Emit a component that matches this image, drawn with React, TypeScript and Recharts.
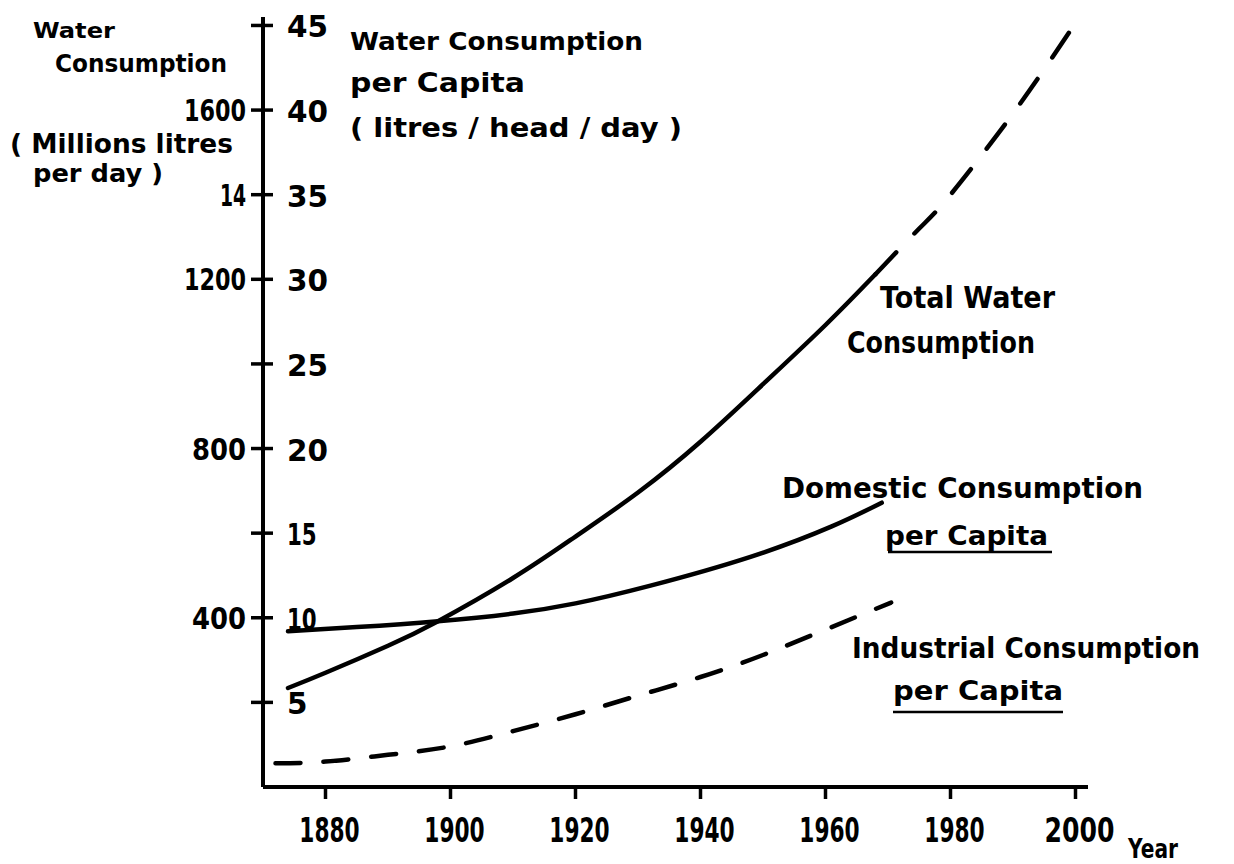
import { LineChart, Line, XAxis, YAxis, Customized } from 'recharts';

// values (litres/head/day)
const totalYears = [1874, 1880, 1890, 1898, 1910, 1920, 1930, 1940, 1950, 1960, 1968];
const totalValues = [5.85, 6.75, 8.35, 9.8, 12.35, 14.8, 17.4, 20.4, 23.8, 27.3, 30.3];

const projectedYears = [1968, 1975, 1980, 1990, 1999];
const projectedValues = [30.3, 33.0, 35.0, 39.8, 44.6];

const domesticYears = [1874, 1885, 1898, 1910, 1920, 1932, 1948, 1961, 1969];
const domesticValues = [9.2, 9.45, 9.8, 10.25, 10.85, 11.9, 13.6, 15.4, 16.8];

const industrialYears = [1872, 1880, 1890, 1900, 1910, 1920, 1930, 1940, 1950, 1960, 1970.5];
const industrialValues = [1.4, 1.5, 1.9, 2.4, 3.3, 4.3, 5.4, 6.5, 7.8, 9.3, 10.9];

const yearTicks = [1880, 1900, 1920, 1940, 1960, 1980, 2000];
const perCapitaTicks = [5, 10, 15, 20, 25, 30, 35, 40, 45];
const totalTickAt = [10, 20, 30, 35, 40];
const totalTickText = ['400', '800', '1200', '14', '1600'];

const toRows = (xs: number[], vs: number[]) => xs.map((year, i) => ({ year, v: vs[i] }));

const FONT = '"DejaVu Sans", Verdana, sans-serif';

// hand lettering has a narrow "1", so squeeze labels to the drawn width
const labelW = (s: string, unit: number) =>
  s.split('').reduce((w, c) => w + (c === '1' ? 0.45 : 1) * unit, 0);

const T = ({ x, y, w, fs, anchor = 'start', children }: {
  x: number; y: number; w: number; fs: number; anchor?: 'start' | 'middle' | 'end'; children: string;
}) => (
  <text x={x} y={y} fontSize={fs} fontWeight={700} fontFamily={FONT} fill="#000"
    textAnchor={anchor} textLength={w} lengthAdjust="spacingAndGlyphs">
    {children}
  </text>
);

const YearTick = (props: any) => {
  const { x, payload } = props;
  const s = String(payload.value);
  return <T x={x + 4} y={842} w={labelW(s, 17.5)} fs={33} anchor="middle">{s}</T>;
};

const ScaleTick = (props: any) => {
  const { x, y, payload } = props;
  const v = payload.value as number;
  const i = totalTickAt.indexOf(v);
  const s = String(v);
  return (
    <g>
      <line x1={x - 12} x2={x + 10} y1={y} y2={y} stroke="#000" strokeWidth={3.5} />
      <T x={x + 24} y={y + 12} w={labelW(s, 20.5)} fs={30}>{s}</T>
      {i >= 0 && (
        <T x={x - 17} y={y + 11} w={labelW(totalTickText[i], 18)} fs={30} anchor="end">
          {totalTickText[i]}
        </T>
      )}
    </g>
  );
};

const Annotations = () => (
  <g>
    {/* left axis title */}
    <T x={33} y={38} w={82} fs={21}>Water</T>
    <T x={55} y={72} w={172} fs={24}>Consumption</T>
    <T x={10} y={153} w={223} fs={27}>( Millions litres</T>
    <T x={33} y={182} w={130} fs={25}>per day )</T>

    {/* right axis title */}
    <T x={350} y={50} w={293} fs={25}>Water Consumption</T>
    <T x={350} y={92} w={175} fs={26}>per Capita</T>
    <T x={350} y={137} w={332} fs={26}>( litres / head / day )</T>

    {/* series labels */}
    <T x={880} y={308} w={175} fs={30}>Total Water</T>
    <T x={847} y={353} w={188} fs={30}>Consumption</T>

    <T x={782} y={498} w={361} fs={28}>Domestic Consumption</T>
    <T x={885} y={545} w={163} fs={27}>per Capita</T>
    <line x1={888} x2={1052} y1={552} y2={552} stroke="#000" strokeWidth={2.5} />

    <T x={852} y={658} w={348} fs={29}>Industrial Consumption</T>
    <T x={893} y={700} w={170} fs={27}>per Capita</T>
    <line x1={893} x2={1063} y1={712} y2={712} stroke="#000" strokeWidth={2.5} />

    <T x={1128} y={858} w={50} fs={26}>Year</T>
  </g>
);

export default function App() {
  const line = {
    type: 'natural' as const,
    dataKey: 'v',
    stroke: '#000',
    strokeWidth: 4.5,
    strokeLinecap: 'round' as const,
    dot: false,
    activeDot: false,
    isAnimationActive: false,
  };

  return (
    <div style={{ position: 'absolute', left: 0, top: 0, width: 1234, height: 864, background: '#fff' }}>
      <LineChart width={1234} height={864} margin={{ top: 17, right: 146, bottom: 17, left: 262 }}>
        <XAxis
          type="number" dataKey="year" domain={[1870, 2002]} ticks={yearTicks} interval={0}
          allowDataOverflow height={60} tickSize={12} tickMargin={2}
          axisLine={{ stroke: '#000', strokeWidth: 4 }}
          tickLine={{ stroke: '#000', strokeWidth: 3.5 }}
          tick={<YearTick />}
        />
        <YAxis
          type="number" domain={[0, 45.5]} ticks={perCapitaTicks} interval={0}
          allowDataOverflow width={1} tickSize={0} tickMargin={0}
          axisLine={{ stroke: '#000', strokeWidth: 4 }}
          tickLine={false}
          tick={<ScaleTick />}
        />
        <Line {...line} data={toRows(totalYears, totalValues)} />
        <Line {...line} data={toRows(projectedYears, projectedValues)} strokeDasharray="30 26" />
        <Line {...line} data={toRows(domesticYears, domesticValues)} />
        <Line {...line} data={toRows(industrialYears, industrialValues)} strokeDasharray="25 23" />
        <Customized component={Annotations} />
      </LineChart>
    </div>
  );
}
